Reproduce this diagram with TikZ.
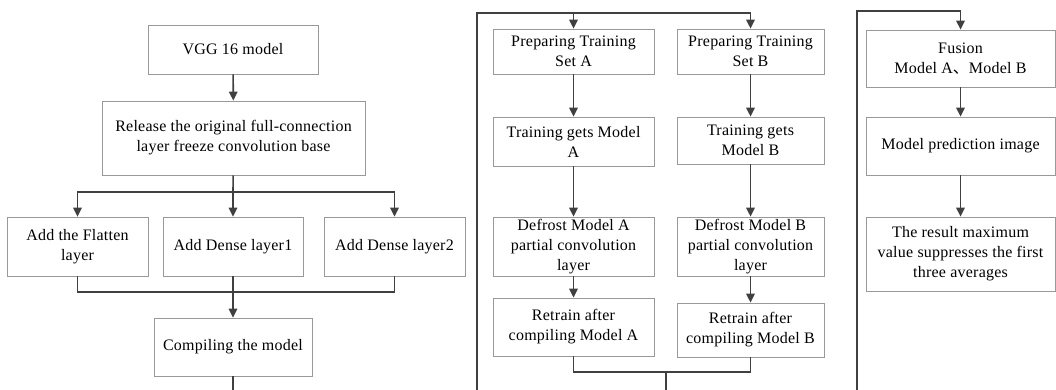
\documentclass[tikz,border=0pt]{standalone}
\usepackage{fontspec}
\setmainfont[LetterSpace=1.5]{Liberation Serif}
\newfontfamily\cjk{Noto Sans CJK SC}
\usetikzlibrary{arrows.meta}
\tikzset{
  stagebox/.style = {align=center, inner sep=0pt, text centered,
    draw=black!40, line width=0.8pt, fill=white,
    font=\fontsize{16}{20}\selectfont},% boite d'etape
  flow/.style = {draw=black!75, line width=1.6pt},% trait de liaison
  flowarr/.style = {flow, -{Triangle[length=9pt,width=8.5pt]}}% trait avec fleche
}

\begin{document}
\begin{tikzpicture}[x=1pt,y=-1pt]
\useasboundingbox (0,0) rectangle (1056,390);
% colonne de gauche
\node [stagebox, minimum width=170pt, minimum height=49pt] (vgg) at (233,49.5) {VGG 16 model};
\node [stagebox, minimum width=263pt, minimum height=74pt] (rel) at (233.5,138)
  {Release the original full-connection\\layer freeze convolution base};
\node [stagebox, minimum width=141pt, minimum height=59pt] (flat) at (77.5,246.5) {Add the Flatten\\layer};
\node [stagebox, minimum width=140pt, minimum height=59pt] (dns1) at (233,246.5) {Add Dense layer1};
\node [stagebox, minimum width=141pt, minimum height=59pt] (dns2) at (394.5,246.5) {Add Dense layer2};
\node [stagebox, minimum width=158pt, minimum height=58pt] (comp) at (233,347) {Compiling the model};
\coordinate (split) at (233,192);
\coordinate (join) at (233,292);
\coordinate (outL) at (233,390);
\draw [flowarr] (vgg) -- (rel);
\draw [flow] (rel) -- (split);
\draw [flowarr] (split) -| (flat);
\draw [flowarr] (split) -- (dns1);
\draw [flowarr] (split) -| (dns2);
\draw [flow] (flat) |- (join);
\draw [flow] (dns2) |- (join);
\draw [flowarr] (dns1) -- (comp);
\draw [flow] (comp) -- (outL);
% colonne du milieu
\node [stagebox, minimum width=161pt, minimum height=45pt] (prepA) at (573.5,51.5) {Preparing Training\\Set A};
\node [stagebox, minimum width=147pt, minimum height=45pt] (prepB) at (750.5,51.5) {Preparing Training\\Set B};
\node [stagebox, minimum width=161pt, minimum height=49pt] (trnA) at (573.5,141.5) {Training gets Model\\A};
\node [stagebox, minimum width=147pt, minimum height=47pt] (trnB) at (750.5,140.5) {Training gets\\Model B};
\node [stagebox, minimum width=161pt, minimum height=59pt] (defA) at (573.5,246.5)
  {Defrost Model A\\partial convolution\\layer};
\node [stagebox, minimum width=147pt, minimum height=59pt] (defB) at (750.5,246.5)
  {Defrost Model B\\partial convolution\\layer};
\node [stagebox, minimum width=161pt, minimum height=58pt] (retA) at (573.5,327) {Retrain after\\compiling Model A};
\node [stagebox, minimum width=147pt, minimum height=54pt] (retB) at (750.5,330) {Retrain after\\compiling Model B};
\coordinate (inM) at (477,390);
\coordinate (topM) at (573.5,13);
\coordinate (joinM) at (666,372);
\coordinate (outM) at (666,390);
\draw [flow] (inM) |- (topM);
\draw [flowarr] (topM) -- (prepA);
\draw [flowarr] (topM) -| (prepB);
\draw [flowarr] (prepA) -- (trnA);
\draw [flowarr] (prepB) -- (trnB);
\draw [flowarr] (trnA) -- (defA);
\draw [flowarr] (trnB) -- (defB);
\draw [flowarr] (defA) -- (retA);
\draw [flowarr] (defB) -- (retB);
\draw [flow] (retA) |- (joinM);
\draw [flow] (retB) |- (joinM);
\draw [flow] (joinM) -- (outM);
% colonne de droite
\node [stagebox, minimum width=189pt, minimum height=57pt] (fuse) at (960.5,58.5)
  {Fusion\\Model A{\cjk 、}Model B};
\node [stagebox, minimum width=189pt, minimum height=58pt] (pred) at (960.5,146) {Model prediction image};
\node [stagebox, minimum width=189pt, minimum height=74pt] (res) at (960.5,254)
  {The result maximum\\value suppresses the first\\three averages};
\coordinate (inR) at (857,390);
\coordinate (topR) at (960.5,11);
\draw [flow] (inR) |- (topR);
\draw [flowarr] (topR) -- (fuse);
\draw [flowarr] (fuse) -- (pred);
\draw [flowarr] (pred) -- (res);
\end{tikzpicture}
\end{document}
